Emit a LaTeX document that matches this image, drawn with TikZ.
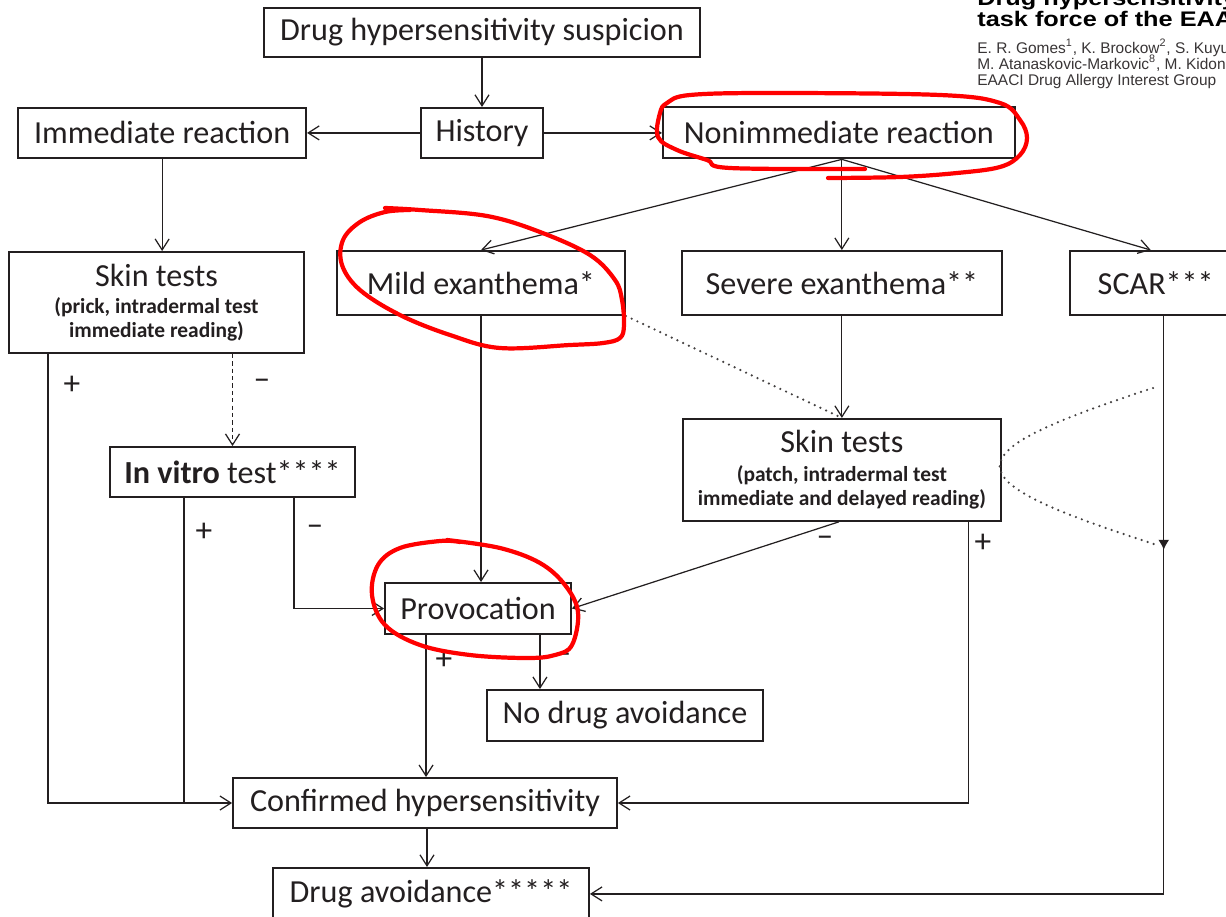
\documentclass[tikz,border=0pt]{standalone}
\usepackage{graphicx}
\usepackage{fontspec}
\setmainfont{Carlito}
\newfontfamily\hdrfont{Liberation Sans}
\usetikzlibrary{positioning}
\usetikzlibrary{arrows.meta}
\usetikzlibrary{decorations.markings}

\definecolor{ink}{RGB}{35,31,32}
\newcommand{\subfnt}{\fontsize{12.2}{13.7}\selectfont\bfseries}
\newcommand{\widettl}[1]{\scalebox{1.2}[1]{#1}}

\begin{document}
\begin{tikzpicture}[
    x=0.02cm, y=-0.02cm,
    box/.style={draw=ink, line width=1.1pt, fill=white, inner sep=0pt, align=center,
        text=ink, font=\fontsize{18.3}{22}\selectfont},
    testbox/.style={box, font=\fontsize{18.3}{13.7}\selectfont},
    flow/.style={draw=ink, line width=0.7pt, -{Straight Barb[length=2.2mm,width=2.8mm]}},
    link/.style={draw=ink, line width=0.7pt},
    dots/.style={draw=ink!85, line width=1.4pt, line cap=round, dash pattern=on 0pt off 3.6pt},
    sign/.style={text=ink, inner sep=0pt, font=\fontsize{19}{19}\selectfont},
    scribble/.style={draw=red, line width=2.4pt, line cap=round, line join=round},
    midtip/.style={
        decoration={
            markings,
            mark=at position #1 with {\arrow{Latex[length=2mm,width=2.2mm]}}
          },
        postaction={decorate}
      },
  ]

  \useasboundingbox (0,0) rectangle (1226,916);
  \fill [white] (0,0) rectangle (1226,916);

  % paper header, cut by the page edge
  \begin{scope}
    \clip (0,0) rectangle (1226,916);
    \node [anchor=base west, inner sep=0pt, font=\hdrfont\bfseries\fontsize{12}{14}\selectfont] (ttlA) at (977,6) {\widettl{Drug hypersensitivity in children: report from the pediatric}};
    \node [anchor=base west, inner sep=0pt, font=\hdrfont\bfseries\fontsize{12}{14}\selectfont] (ttlB) at (977,27) {\widettl{task force of the EAACI Drug Allergy Interest Group}};
    \node [anchor=base west, inner sep=0pt, text=ink!90, font=\hdrfont\fontsize{8.8}{10}\selectfont] (authA) at (977,53) {E. R. Gomes\textsuperscript{1}, K. Brockow\textsuperscript{2}, S. Kuyucu\textsuperscript{3}};
    \node [anchor=base west, inner sep=0pt, text=ink!90, font=\hdrfont\fontsize{8.8}{10}\selectfont] (authB) at (977,69) {M. Atanaskovic-Markovic\textsuperscript{8}, M. Kidon\textsuperscript{9}};
    \node [anchor=base west, inner sep=0pt, text=ink!90, font=\hdrfont\fontsize{8.8}{10}\selectfont] (authC) at (977,85) {EAACI Drug Allergy Interest Group};
  \end{scope}

  \node [box, minimum width=8.72cm, minimum height=0.98cm] (susp) at (482,32.5) {Drug hypersensitivity suspicion};
  \node [box, minimum width=2.44cm, minimum height=1cm, below=0.98cm of susp] (hist) {History};
  \node [box, minimum width=5.76cm, minimum height=1cm, left=2.26cm of hist] (imm) {Immediate reaction};
  \node [box, minimum width=7.04cm, minimum height=1.02cm, right=2.36cm of hist] (nonimm) {Nonimmediate reaction};

  \node [testbox, minimum width=5.9cm, minimum height=2.02cm] (skinA) at (156.5,302.5) {Skin tests\\[2pt]\subfnt (prick, intradermal test\\\subfnt immediate reading)};
  \node [box, minimum width=5.76cm, minimum height=1.28cm] (mild) at (481,283) {Mild exanthema*};
  \node [box, minimum width=6.4cm, minimum height=1.28cm, right=1.1cm of mild] (severe) {Severe exanthema**};
  \node [box, minimum width=3.44cm, minimum height=1.28cm, right=1.32cm of severe] (scar) {SCAR***};
  \node [testbox, minimum width=6.36cm, minimum height=2.04cm, below=2.04cm of severe] (skinB) {Skin tests\\[3pt]\subfnt (patch, intradermal test\\\subfnt immediate and delayed reading)};

  \node [box, minimum width=4.9cm, minimum height=1cm] (vitro) at (232.5,472) {\textbf{In vitro} test****};
  \node [box, minimum width=3.72cm, minimum height=1.02cm] (prov) at (478,608.5) {Provocation};
  \node [box, minimum width=5.52cm, minimum height=1.02cm] (nodrug) at (625,715.5) {No drug avoidance};
  \node [box, minimum width=7.68cm, minimum height=1cm] (conf) at (425,803) {Confirmed hypersensitivity};
  \node [box, minimum width=6.32cm, minimum height=1.04cm, below=0.76cm of conf, xshift=0.12cm] (avoid) {Drug avoidance*****};

  \coordinate (fork) at ([xshift=0.06cm]nonimm.south);
  \coordinate (dtop) at (1153,388);
  \coordinate (dbot) at (1157,545);

  \draw [flow] (susp) -- (hist);
  \draw [flow] (hist) -- (imm);
  \draw [flow] (hist) -- (nonimm);
  \draw [flow] (imm.south) -- (imm.south |- skinA.north);
  \draw [flow] (fork) -- (mild.north);
  \draw [flow] (fork) -- (fork |- severe.north);
  \draw [flow] (fork) -- ([xshift=-0.1cm]scar.north);

  \draw [flow] ([xshift=0.8cm]skinA.south west) |- (conf.west);
  \draw [flow, dash pattern=on 2.4pt off 1.8pt] (vitro.north |- skinA.south) -- (vitro.north);
  \draw [link] ([xshift=1.5cm]vitro.south west) -- ([xshift=1.5cm]vitro.south west |- conf.west);
  \draw [flow] ([xshift=-1.24cm]vitro.south east) |- (prov.west);

  \draw [flow] (mild.south) -- (mild.south |- prov.north);
  \draw [dots] (mild.south east) -- (skinB.north);
  \draw [flow] (severe.south) -- (skinB.north);
  \draw [flow] ([xshift=-0.06cm]skinB.south) -- (prov.east);
  \draw [flow] ([xshift=-0.66cm]skinB.south east) |- (conf.east);
  \draw [flow, midtip=0.203] ([xshift=0.16cm]scar.south) |- (avoid.east);
  \draw [dots] (dtop) .. controls (948,455) and (948,478) .. (dbot);

  \draw [flow] ([xshift=0.84cm]prov.south west) -- ([xshift=0.84cm]prov.south west |- conf.north);
  \draw [flow] ([xshift=-0.64cm]prov.south east) -- ([xshift=-0.64cm]prov.south east |- nodrug.north);
  \draw [flow] ([xshift=0.04cm]conf.south) -- ([xshift=0.04cm]conf.south |- avoid.north);

  \node [sign] (plusA) at (72,385) {+};
  \node [sign] (minusA) at (262,384) {--};
  \node [sign] (plusB) at (204,532) {+};
  \node [sign] (minusB) at (315,530) {--};
  \node [sign] (plusC) at (444,660) {+};
  \node [sign] (minusC) at (563,658) {--};
  \node [sign] (minusD) at (825,541) {--};
  \node [sign] (plusD) at (983,543) {+};

  % red marks drawn over the chart
  \draw [scribble] plot [smooth, tension=0.6] coordinates {(828,178) (900,177) (957,173) (1000,167) (1020,155) (1027,138) (1020,120) (1000,103) (940,95) (773,93) (690,95) (667,103) (660,113) (658,137) (677,150) (707,160) (730,168) (865,169)};
  \draw [scribble] plot [smooth, tension=0.6] coordinates {(385,208) (420,210) (487,216) (540,232) (590,255) (615,280) (622,300) (624,325) (620,338) (603,343) (570,345) (500,348) (450,335) (400,315) (360,290) (342,265) (343,240) (360,222) (385,212) (410,210)};
  \draw [scribble] plot [smooth, tension=0.6] coordinates {(447,540) (500,548) (540,563) (565,585) (578,612) (572,645) (555,655) (527,658) (470,655) (420,645) (385,625) (372,595) (378,565) (400,548) (440,541) (460,542)};

\end{tikzpicture}
\end{document}
